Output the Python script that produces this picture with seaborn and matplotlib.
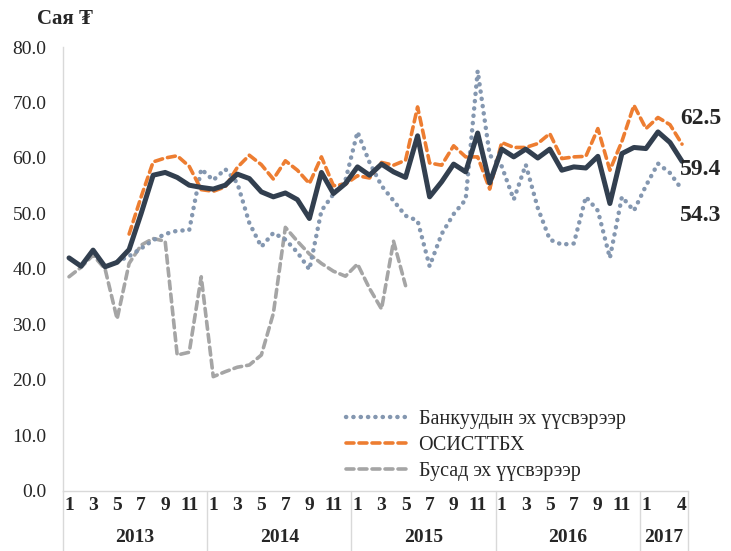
import matplotlib
matplotlib.use("Agg")
import matplotlib.pyplot as plt
import matplotlib.lines as mlines
import numpy as np
import pandas as pd
import seaborn as sns

# months 2013-1 .. 2017-4
years = ["2013", "2014", "2015", "2016", "2017"]
months_per_year = [12, 12, 12, 12, 4]
month_labels = (["1", "", "3", "", "5", "", "7", "", "9", "", "11", ""] * 4
                + ["1", "", "", "4"])

total = [42.0, 40.5, 43.4, 40.4, 41.2, 43.5, 50.0, 56.9, 57.4, 56.5, 55.1, 54.7,
         54.4, 55.1, 57.1, 56.3, 53.9, 53.0, 53.7, 52.5, 49.1, 57.4, 53.6, 55.4,
         58.4, 56.9, 58.9, 57.5, 56.5, 64.0, 53.0, 55.7, 58.9, 57.5, 64.5, 55.5,
         61.6, 60.2, 61.6, 60.0, 61.6, 57.8, 58.4, 58.2, 60.3, 51.8, 60.8, 61.9,
         61.7, 64.7, 62.8, 59.4]

banks = [np.nan, np.nan, np.nan, np.nan, 41.3, 42.3, 43.7, 45.2, 46.3, 46.9, 47.0, 58.0,
         56.0, 58.0, 55.5, 48.3, 44.0, 46.5, 45.3, 43.0, 39.9, 50.5, 53.5, 56.0,
         64.7, 59.2, 55.0, 52.3, 49.6, 48.7, 40.5, 46.3, 49.9, 52.5, 75.7, 60.5,
         58.5, 52.5, 58.8, 51.0, 45.3, 44.4, 44.6, 53.0, 50.5, 42.0, 53.0, 50.5,
         55.0, 59.0, 57.3, 54.3]

osisttbh = [np.nan, np.nan, np.nan, np.nan, np.nan, 46.3, 53.0, 59.3, 60.0, 60.4, 58.5, 54.3,
            54.0, 54.8, 58.3, 60.5, 58.8, 56.2, 59.5, 57.8, 55.4, 60.2, 55.0, 55.3,
            56.8, 56.4, 59.2, 58.7, 59.6, 69.2, 59.1, 58.7, 62.2, 60.2, 60.2, 54.4,
            62.8, 61.9, 61.9, 62.6, 64.4, 59.9, 60.2, 60.3, 65.3, 57.8, 63.0, 69.5,
            65.3, 67.3, 66.0, 62.5]

other = [38.6, 40.3, 42.5, 40.0, 31.0, 41.0, 44.3, 45.5, 45.0, 24.5, 25.0, 38.6,
         20.6, 21.5, 22.3, 22.7, 24.5, 32.0, 47.5, 45.0, 42.7, 41.0, 39.6, 38.7,
         40.9, 36.5, 32.8, 45.0, 37.0] + [np.nan] * 23

series_names = ["Банкуудын эх үүсвэрээр", "ОСИСТТБХ", "Бусад эх үүсвэрээр"]

c_total = "#323F4F"
c_banks = "#8497B0"
c_osi = "#ED7D31"
c_other = "#A5A5A5"

sns.set_style("white")
plt.rcParams["font.family"] = ["Liberation Serif", "DejaVu Serif"]

n = len(total)
idx = np.arange(n)
df = pd.DataFrame({"i": idx, "total": total, "banks": banks,
                   "osi": osisttbh, "other": other})

fig = plt.figure(figsize=(7.31, 5.51), dpi=100)
ax = fig.add_axes([0.0862, 0.1089, 0.855, 0.8058])

dot = (0, (0.05, 1.6))
dash = (0, (2.2, 1.4))

sns.lineplot(data=df, x="i", y="other", ax=ax, color=c_other, lw=2.6,
             linestyle=dash, dash_capstyle="round", solid_joinstyle="round")
sns.lineplot(data=df, x="i", y="banks", ax=ax, color=c_banks, lw=3.2,
             linestyle=dot, dash_capstyle="round")
sns.lineplot(data=df, x="i", y="osi", ax=ax, color=c_osi, lw=2.6,
             linestyle=dash, dash_capstyle="round")
sns.lineplot(data=df, x="i", y="total", ax=ax, color=c_total, lw=3.6,
             solid_joinstyle="round", solid_capstyle="round")

ax.set_xlim(-0.5, n - 0.5)
ax.set_ylim(0, 80)
ax.set_yticks(np.arange(0, 81, 10))
ax.set_yticklabels([f"{v:.1f}" for v in np.arange(0, 81, 10)], fontsize=14)
ax.set_xticks(idx)
ax.set_xticklabels(month_labels, fontsize=14, fontweight="bold")
ax.tick_params(axis="x", length=0, pad=4)
ax.tick_params(axis="y", length=4, width=1, color="#D9D9D9", pad=8)
ax.set_xlabel("")
ax.set_ylabel("")

for s in ["top", "right"]:
    ax.spines[s].set_visible(False)
for s in ["left", "bottom"]:
    ax.spines[s].set_color("#D9D9D9")
    ax.spines[s].set_linewidth(1)

# year separators and labels
trans = ax.get_xaxis_transform()
start = -0.5
bounds = [start]
for m in months_per_year:
    bounds.append(bounds[-1] + m)
for b in bounds:
    ax.plot([b, b], [0, -0.14], color="#D9D9D9", lw=1, transform=trans, clip_on=False)
for y, a, b in zip(years, bounds[:-1], bounds[1:]):
    ax.text((a + b) / 2, -0.104, y, transform=trans, ha="center", va="center",
            fontsize=14, fontweight="bold")

# end labels
ax.annotate(f"{osisttbh[-1]:.1f}", (idx[-1], osisttbh[-1]), xytext=(-2, 26),
            textcoords="offset pixels", ha="left", va="center", fontsize=17,
            fontweight="bold", annotation_clip=False)
ax.annotate(f"{total[-1]:.1f}", (idx[-1], total[-1]), xytext=(-2, -8),
            textcoords="offset pixels", ha="left", va="center", fontsize=17,
            fontweight="bold", annotation_clip=False)
ax.annotate(f"{banks[-1]:.1f}", (idx[-1], banks[-1]), xytext=(-2, -26),
            textcoords="offset pixels", ha="left", va="center", fontsize=17,
            fontweight="bold", annotation_clip=False)

fig.text(37 / 731, 1 - 19 / 551, "Сая ₮", fontsize=15, fontweight="bold",
         ha="left", va="center")

handles = [
    mlines.Line2D([], [], color=c_banks, lw=3.2, linestyle=dot, dash_capstyle="round"),
    mlines.Line2D([], [], color=c_osi, lw=2.6, linestyle=dash, dash_capstyle="round"),
    mlines.Line2D([], [], color=c_other, lw=2.6, linestyle=dash, dash_capstyle="round"),
]
ax.legend(handles, series_names, loc="lower left", bbox_to_anchor=(0.44, 0.004),
          frameon=False, fontsize=14.5, handlelength=3.2, handletextpad=0.4,
          labelspacing=0.35, borderaxespad=0)

fig.savefig("out.png", dpi=100)
